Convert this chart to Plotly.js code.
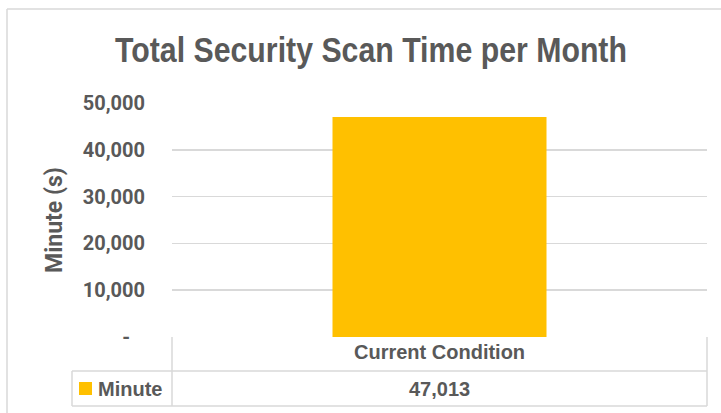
<!DOCTYPE html>
<html>
<head>
<meta charset="utf-8">
<script src="https://cdn.plot.ly/plotly-3.0.1.min.js"></script>
<style>html,body{margin:0;padding:0;background:#fff;}#chart{width:721px;height:413px;}</style>
</head>
<body>
<div id="chart"></div>
<script>
// ---- data ----
const categories = ["Current Condition"];
const seriesName = "Minute";
const minutes = [47013];
const tickValues = [0, 10000, 20000, 30000, 40000, 50000];
const tickLabels = ["-\u00a0\u00a0\u00a0", "10,000", "20,000", "30,000", "40,000", "50,000"];
const chartTitle = "Total Security Scan Time per Month";
const yTitle = "Minute (s)";

// ---- layout helpers (pixel -> paper) ----
const W = 721, H = 413;
const L = 172, R = 707, T = 103, B = 337;
const px = p => (p - L) / (R - L);
const py = p => (B - p) / (B - T);

const grey = "#595959";
const lineCol = "#d9d9d9";
const sans = "'Liberation Sans', Arial, sans-serif";
const wide = "Roboto, 'Liberation Sans', Arial, sans-serif";

function hline(x0, x1, y) {
  return {type: "line", xref: "paper", yref: "paper", x0: px(x0), x1: px(x1), y0: py(y), y1: py(y),
          line: {color: lineCol, width: 1.5}, layer: "above"};
}
function vline(x, y0, y1) {
  return {type: "line", xref: "paper", yref: "paper", x0: px(x), x1: px(x), y0: py(y0), y1: py(y1),
          line: {color: lineCol, width: 1.5}, layer: "above"};
}

const shapes = [
  // chart frame
  vline(7, 9, 420), hline(7, 730, 9),
  // data table
  vline(172, 337, 406), vline(707, 337, 406),
  hline(72, 707, 371), hline(72, 707, 406), vline(72, 371, 406),
  // legend key
  {type: "rect", xref: "paper", yref: "paper", x0: px(79), x1: px(92), y0: py(395), y1: py(382),
   fillcolor: "#FFC000", line: {width: 0}}
];

const tableFont = {family: sans, size: 20, color: grey, weight: "bold"};
const annotations = [];
categories.forEach((c, i) => {
  annotations.push({x: c, xref: "x", y: py(352), yref: "paper", text: c, showarrow: false,
    font: tableFont, yanchor: "middle"});
  annotations.push({x: c, xref: "x", y: py(389), yref: "paper",
    text: minutes[i].toLocaleString("en-US"), showarrow: false,
    font: tableFont, yanchor: "middle"});
});
annotations.push({x: px(96), xref: "paper", y: py(389), yref: "paper", text: seriesName,
  showarrow: false, xanchor: "left", yanchor: "middle", font: tableFont});

const data = [{
  type: "bar", x: categories, y: minutes, name: seriesName,
  marker: {color: "#FFC000"}, hoverinfo: "none"
}];

const layout = {
  width: W, height: H,
  margin: {l: L, r: W - R, t: T, b: H - B, pad: 0},
  paper_bgcolor: "#ffffff", plot_bgcolor: "#ffffff",
  showlegend: false,
  bargap: 0.6,
  title: {text: chartTitle, xref: "container", yref: "container", x: 371 / W, y: 1 - 50 / H,
          xanchor: "center", yanchor: "middle",
          font: {family: sans, size: 35, color: grey, weight: "bold"}},
  xaxis: {showticklabels: false, showgrid: false, zeroline: false, showline: false, ticks: "",
          fixedrange: true},
  yaxis: {range: [0, 50000], tickvals: tickValues, ticktext: tickLabels,
          showgrid: true, gridcolor: lineCol, gridwidth: 1.5, zeroline: false, showline: false,
          ticks: "outside", ticklen: 22, tickcolor: "rgba(0,0,0,0)",
          tickfont: {family: wide, size: 20, color: grey, weight: "bold"},
          title: {text: yTitle, standoff: 13, font: {family: wide, size: 23, color: grey, weight: "bold"}},
          automargin: false, fixedrange: true},
  shapes: shapes,
  annotations: annotations
};

Plotly.newPlot("chart", data, layout, {displayModeBar: false, staticPlot: true}).then(() => {
  // condense the title horizontally to mimic the narrow Excel title face
  const t = document.querySelector(".gtitle");
  if (t) {
    const bb = t.getBBox();
    const cx = bb.x + bb.width / 2;
    t.setAttribute("transform", `translate(${cx},0) scale(0.865,1) translate(${-cx},0)`);
  }
});
</script>
</body>
</html>
